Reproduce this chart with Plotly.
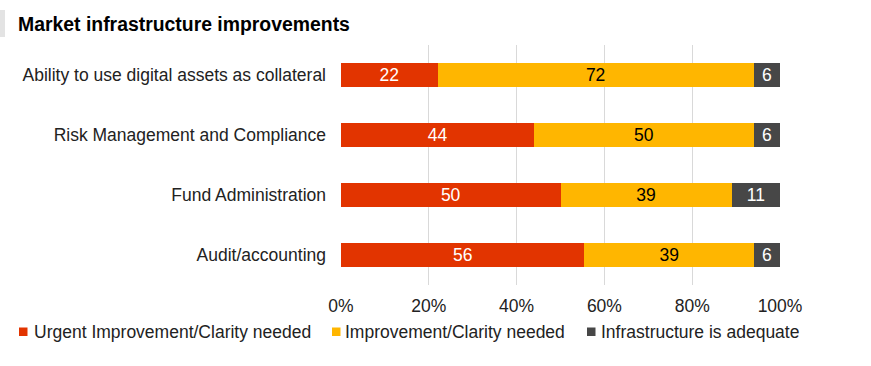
import plotly.graph_objects as go

categories = ["Ability to use digital assets as collateral", "Risk Management and Compliance",
              "Fund Administration", "Audit/accounting"]
urgent = [22, 44, 50, 56]
improve = [72, 50, 39, 39]
adequate = [6, 6, 11, 6]
series_names = ["Urgent Improvement/Clarity needed", "Improvement/Clarity needed",
                "Infrastructure is adequate"]
colors = ["#E23400", "#FFB600", "#474747"]
text_colors = ["white", "black", "white"]
tick_vals = [0, 20, 40, 60, 80, 100]
tick_text = ["0%", "20%", "40%", "60%", "80%", "100%"]

FONT = "Liberation Sans, Arial, sans-serif"
FS = 17.5
W, H = 871, 366
ML, MR, MT, MB = 341, 91, 45, 81
pw = W - ML - MR
ph = H - MT - MB


def px_x(x):
    return (x - ML) / pw


def px_y(y):
    return (H - MB - y) / ph


fig = go.Figure()
for name, vals, col, tcol in zip(series_names, [urgent, improve, adequate], colors, text_colors):
    fig.add_trace(go.Bar(
        y=categories, x=vals, name=name, orientation="h",
        marker=dict(color=col, line=dict(width=0)),
        text=[str(v) for v in vals], textposition="inside", insidetextanchor="middle",
        textangle=0, constraintext="none",
        textfont=dict(color=tcol, size=FS, family=FONT),
        width=0.4, showlegend=False,
    ))

# legend drawn as real text with colour swatches (matching reference legend layout)
legend_text_x = [33, 344, 600]
legend_square_x = [19, 332, 587]
annotations = [dict(text="<b>Market infrastructure improvements</b>", xref="paper", yref="paper",
                    x=px_x(16), y=px_y(24), showarrow=False, xanchor="left", yanchor="middle",
                    font=dict(size=19.4, color="black", family=FONT))]
shapes = [dict(type="rect", xref="paper", yref="paper", x0=px_x(0), x1=px_x(5),
               y0=px_y(37), y1=px_y(10), fillcolor="#E3E3E3", line=dict(width=0))]
for name, col, tx, sx in zip(series_names, colors, legend_text_x, legend_square_x):
    annotations.append(dict(text=name, xref="paper", yref="paper", x=px_x(tx - 1), y=px_y(332),
                            showarrow=False, xanchor="left", yanchor="middle",
                            font=dict(size=FS, color="#222222", family=FONT)))
    shapes.append(dict(type="rect", xref="paper", yref="paper", x0=px_x(sx), x1=px_x(sx + 8.5),
                       y0=px_y(336), y1=px_y(327.5), fillcolor=col, line=dict(width=0)))

fig.update_layout(
    barmode="stack", barnorm="percent",
    width=W, height=H,
    margin=dict(l=ML, r=MR, t=MT, b=MB),
    paper_bgcolor="white", plot_bgcolor="white",
    font=dict(family=FONT, size=FS, color="#222222"),
    showlegend=False,
    uniformtext=dict(minsize=FS, mode="show"),
    xaxis=dict(range=[0, 100], tickvals=tick_vals, ticktext=tick_text,
               showgrid=True, gridcolor="#D9D9D9", gridwidth=1, zeroline=False,
               tickfont=dict(size=FS, color="#222222"), fixedrange=True,
               ticks="", ticklabelstandoff=8),
    yaxis=dict(autorange="reversed", showgrid=False, ticks="", ticklabelstandoff=14,
               tickfont=dict(size=FS, color="#222222")),
    annotations=annotations,
    shapes=shapes,
)

fig.write_html("out.html", config={"displayModeBar": False},
               post_script="document.body.style.margin='0px';")
